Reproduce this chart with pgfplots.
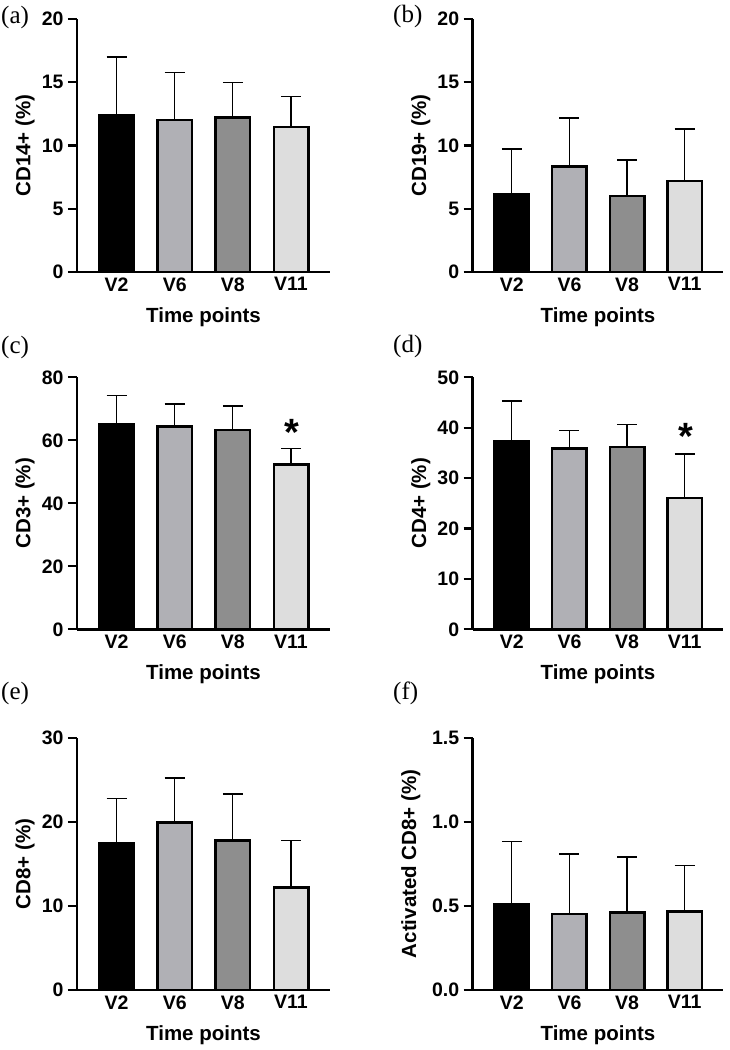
\documentclass[border=0pt]{standalone}
\usepackage{pgfplots}
\pgfplotsset{compat=1.18}
\usepackage{fontspec}
\setmainfont{Liberation Sans}
\newfontfamily\timesfont{Liberation Serif}
\definecolor{cA}{RGB}{0,0,0}
\definecolor{cB}{RGB}{176,176,181}
\definecolor{cC}{RGB}{142,142,142}
\definecolor{cD}{RGB}{221,221,221}
\pgfplotsset{
  panel/.style={
    scale only axis, height=#1,
    axis lines*=left,
    axis line style={line width=2.6pt, black},
    ybar, bar width=34.5pt, bar shift=0pt,
    xmin=-0.68, xmax=3.67, ymin=0,
    xtick={0,1,2,3}, xticklabels={V2,V6,V8,V11},
    major x tick style={draw=none},
    ytick pos=left,
    tick align=outside, major tick length=9pt,
    major y tick style={line width=2.2pt, black},
    /pgf/number format/assume math mode=true,
    tick label style={font=\bfseries\fontsize{19.5}{21}\selectfont},
    yticklabel style={xshift=-1pt},
    xticklabel style={yshift=7pt},
    xlabel={Time points},
    every axis x label/.style={at={(rel axis cs:0.5,0)}, yshift=-45pt, anchor=center,
      font=\bfseries\fontsize{20.5}{22}\selectfont},
    every axis y label/.style={at={(rel axis cs:0,0.5)}, xshift=-52pt, rotate=90, anchor=center,
      font=\bfseries\fontsize{20.5}{22}\selectfont},
    clip=false,
    every axis plot/.append style={draw=black, line width=2.5pt},
    error bars/y dir=plus, error bars/y explicit,
    error bars/error bar style={line width=1.2pt, black},
    error bars/error mark options={rotate=90, line width=1.2pt, black, mark size=10pt},
  },
  left/.style={width=253pt},
  right/.style={width=250.5pt},
}
\begin{document}
\begin{tikzpicture}
\useasboundingbox (0,0) rectangle (729pt,1050pt);
% panel labels
\node[anchor=west, inner sep=0pt, font=\timesfont\fontsize{25}{27}\selectfont] at (1pt,1033pt) {(a)};
\node[anchor=west, inner sep=0pt, font=\timesfont\fontsize{25}{27}\selectfont] at (393pt,1034pt) {(b)};
\node[anchor=west, inner sep=0pt, font=\timesfont\fontsize{25}{27}\selectfont] at (1pt,703pt) {(c)};
\node[anchor=west, inner sep=0pt, font=\timesfont\fontsize{25}{27}\selectfont] at (393pt,704pt) {(d)};
\node[anchor=west, inner sep=0pt, font=\timesfont\fontsize{25}{27}\selectfont] at (1pt,357pt) {(e)};
\node[anchor=west, inner sep=0pt, font=\timesfont\fontsize{25}{27}\selectfont] at (393pt,357pt) {(f)};

% (a)
\begin{axis}[panel=253pt, left, at={(77pt,778pt)}, anchor=south west,
  ymax=20, ytick={0,5,10,15,20}, ylabel={CD14+ (\%)}]
\addplot[fill=cA] coordinates {(0,12.4) +- (0,4.6)};
\addplot[fill=cB] coordinates {(1,12.0) +- (0,3.75)};
\addplot[fill=cC] coordinates {(2,12.2) +- (0,2.77)};
\addplot[fill=cD] coordinates {(3,11.45) +- (0,2.42)};
\end{axis}

% (b)
\begin{axis}[panel=253pt, right, at={(472.7pt,778pt)}, anchor=south west,
  ymax=20, ytick={0,5,10,15,20}, ylabel={CD19+ (\%)}]
\addplot[fill=cA] coordinates {(0,6.17) +- (0,3.55)};
\addplot[fill=cB] coordinates {(1,8.33) +- (0,3.84)};
\addplot[fill=cC] coordinates {(2,6.0) +- (0,2.85)};
\addplot[fill=cD] coordinates {(3,7.19) +- (0,4.11)};
\end{axis}

% (c)
\begin{axis}[panel=252pt, left, at={(77pt,420.7pt)}, anchor=south west,
  ymax=80, ytick={0,20,40,60,80}, ylabel={CD3+ (\%)}]
\addplot[fill=cA] coordinates {(0,65.2) +- (0,9.0)};
\addplot[fill=cB] coordinates {(1,64.4) +- (0,7.1)};
\addplot[fill=cC] coordinates {(2,63.3) +- (0,7.6)};
\addplot[fill=cD] coordinates {(3,52.3) +- (0,5.0)};
\node[font=\bfseries\fontsize{38}{40}\selectfont, inner sep=0pt, anchor=base] at (axis cs:3.02,58.4) {*};
\end{axis}

% (d)
\begin{axis}[panel=252pt, right, at={(472.7pt,420.7pt)}, anchor=south west,
  ymax=50, ytick={0,10,20,30,40,50}, ylabel={CD4+ (\%)}]
\addplot[fill=cA] coordinates {(0,37.4) +- (0,7.9)};
\addplot[fill=cB] coordinates {(1,35.9) +- (0,3.5)};
\addplot[fill=cC] coordinates {(2,36.2) +- (0,4.5)};
\addplot[fill=cD] coordinates {(3,26.1) +- (0,8.7)};
\node[font=\bfseries\fontsize{38}{40}\selectfont, inner sep=0pt, anchor=base] at (axis cs:3.02,35.6) {*};
\end{axis}

% (e)
\begin{axis}[panel=252.3pt, left, at={(77pt,60pt)}, anchor=south west,
  ymax=30, ytick={0,10,20,30}, ylabel={CD8+ (\%)}]
\addplot[fill=cA] coordinates {(0,17.4) +- (0,5.4)};
\addplot[fill=cB] coordinates {(1,19.9) +- (0,5.3)};
\addplot[fill=cC] coordinates {(2,17.8) +- (0,5.5)};
\addplot[fill=cD] coordinates {(3,12.2) +- (0,5.6)};
\end{axis}

% (f)
\begin{axis}[panel=252.3pt, right, at={(472.7pt,60pt)}, anchor=south west,
  ymax=1.5, ytick={0,0.5,1.0,1.5}, ylabel={Activated CD8+ (\%)},
  yticklabel style={/pgf/number format/.cd, fixed, fixed zerofill, precision=1},
  every axis y label/.style={at={(rel axis cs:0,0.5)}, xshift=-62pt, rotate=90, anchor=center,
    font=\bfseries\fontsize{20.5}{22}\selectfont}]
\addplot[fill=cA] coordinates {(0,0.51) +- (0,0.373)};
\addplot[fill=cB] coordinates {(1,0.451) +- (0,0.358)};
\addplot[fill=cC] coordinates {(2,0.461) +- (0,0.33)};
\addplot[fill=cD] coordinates {(3,0.467) +- (0,0.275)};
\end{axis}
\end{tikzpicture}
\end{document}
